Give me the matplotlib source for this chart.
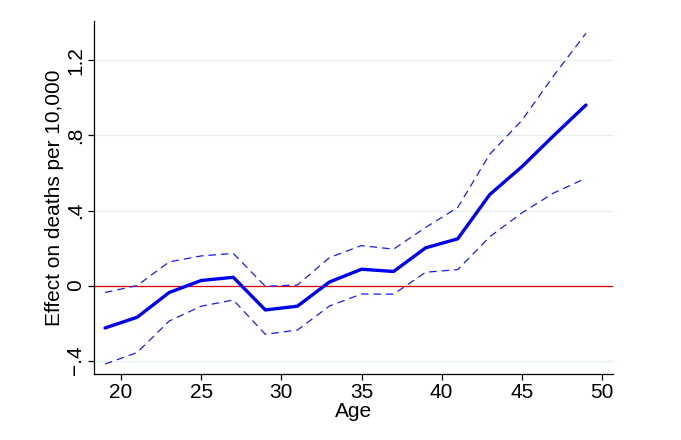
import matplotlib
matplotlib.use("Agg")
import matplotlib.pyplot as plt

plt.rcParams['font.family'] = ['Liberation Sans', 'DejaVu Sans']

ages = [19, 21, 23, 25, 27, 29, 31, 33, 35, 37, 39, 41, 43, 45, 47, 49]
effect = [-0.226, -0.169, -0.037, 0.027, 0.044, -0.130, -0.110, 0.019, 0.087, 0.075,
          0.201, 0.249, 0.485, 0.633, 0.800, 0.962]
upper = [-0.037, 0.000, 0.126, 0.158, 0.171, -0.004, 0.003, 0.149, 0.213, 0.194,
         0.310, 0.416, 0.700, 0.880, 1.120, 1.344]
lower = [-0.418, -0.357, -0.189, -0.110, -0.077, -0.260, -0.237, -0.109, -0.045, -0.046,
         0.071, 0.085, 0.260, 0.387, 0.494, 0.572]
xticks = [20, 25, 30, 35, 40, 45, 50]
yticks = [-0.4, 0, 0.4, 0.8, 1.2]
yticklabels = ["\u2212.4", "0", ".4", ".8", "1.2"]

fig = plt.figure(figsize=(6.81, 4.40), dpi=100)
ax = fig.add_axes([0.1385, 0.1493, 0.7612, 0.803])

for y in yticks:
    ax.axhline(y, color='#e8eff0', lw=1.0, zorder=0)
ax.axhline(0, color='#dd0000', lw=0.9, zorder=1)

ax.plot(ages, upper, color='#1a1aff', lw=0.9, dashes=(6, 4), zorder=2)
ax.plot(ages, lower, color='#1a1aff', lw=0.9, dashes=(6, 4), zorder=2)
ax.plot(ages, effect, color='#0000ee', lw=2.4, zorder=3, solid_capstyle='round')

ax.set_xlim(18.33, 50.67)
ax.set_ylim(-0.473, 1.41)
ax.set_xticks(xticks)
ax.set_yticks(yticks)
ax.set_yticklabels(yticklabels, rotation=90, va='center')
ax.tick_params(axis='both', labelsize=15, length=4.5, width=0.9, direction='out', pad=2)
for s in ['top', 'right']:
    ax.spines[s].set_visible(False)
for s in ['left', 'bottom']:
    ax.spines[s].set_linewidth(0.9)

ax.set_xlabel("Age", fontsize=15, labelpad=0)
ax.set_ylabel("Effect on deaths per 10,000", fontsize=15, labelpad=2)

fig.savefig("out.png", dpi=100)
